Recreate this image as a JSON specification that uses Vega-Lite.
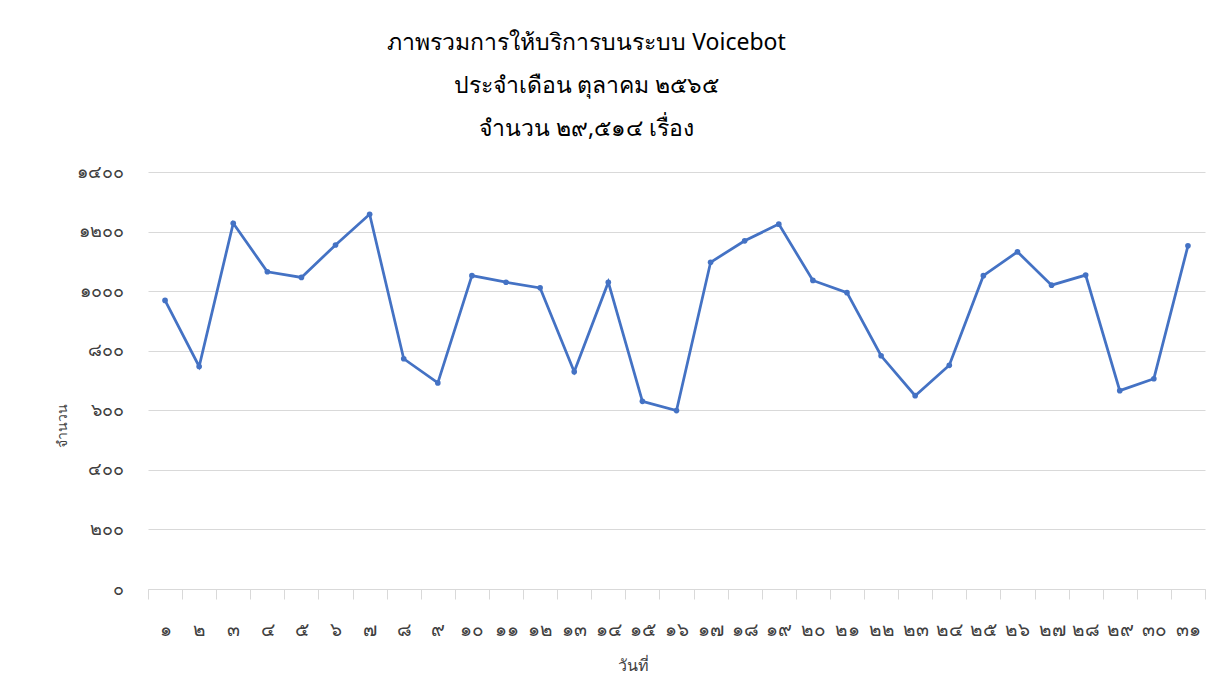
{
  "$schema": "https://vega.github.io/schema/vega-lite/v6.json",
  "width": 1057,
  "height": 417,
  "autosize": "none",
  "padding": {"left": 148, "top": 172, "right": 13, "bottom": 105},
  "background": "white",
  "title": {
    "text": ["ภาพรวมการให้บริการบนระบบ Voicebot", "ประจำเดือน ตุลาคม ๒๕๖๕", "จำนวน  ๒๙,๕๑๔ เรื่อง"],
    "anchor": "middle",
    "frame": "group",
    "dx": -90,
    "offset": 22,
    "fontSize": 23,
    "lineHeight": 43,
    "font": "Noto Sans",
    "fontWeight": "normal",
    "color": "#000000"
  },
  "data": {
    "values": [
      {"day": 1, "count": 969},
      {"day": 2, "count": 747},
      {"day": 3, "count": 1228},
      {"day": 4, "count": 1065},
      {"day": 5, "count": 1046},
      {"day": 6, "count": 1155},
      {"day": 7, "count": 1258},
      {"day": 8, "count": 773},
      {"day": 9, "count": 692},
      {"day": 10, "count": 1052},
      {"day": 11, "count": 1030},
      {"day": 12, "count": 1011},
      {"day": 13, "count": 729},
      {"day": 14, "count": 1030},
      {"day": 15, "count": 630},
      {"day": 16, "count": 599},
      {"day": 17, "count": 1097},
      {"day": 18, "count": 1169},
      {"day": 19, "count": 1225},
      {"day": 20, "count": 1036},
      {"day": 21, "count": 995},
      {"day": 22, "count": 783},
      {"day": 23, "count": 649},
      {"day": 24, "count": 751},
      {"day": 25, "count": 1052},
      {"day": 26, "count": 1132},
      {"day": 27, "count": 1020},
      {"day": 28, "count": 1054},
      {"day": 29, "count": 666},
      {"day": 30, "count": 706},
      {"day": 31, "count": 1152}
    ]
  },
  "mark": {"type": "line", "color": "#4472C4", "strokeWidth": 2.75, "point": {"filled": true, "size": 32, "color": "#4472C4"}},
  "encoding": {
    "x": {
      "field": "day",
      "type": "ordinal",
      "sort": null,
      "scale": {"type": "band", "paddingInner": 0, "paddingOuter": 0},
      "axis": {
        "title": "วันที่",
        "titleFont": "Noto Sans",
        "titleFontSize": 16,
        "titleFontWeight": "normal",
        "titleColor": "#404040",
        "titleX": 485,
        "titleY": 76,
        "titleBaseline": "middle",
        "labelAngle": 0,
        "labelFont": "Noto Sans",
        "labelFontSize": 19,
        "labelColor": "#404040",
        "labelPadding": 21,
        "labelExpr": "replace(replace(replace(replace(replace(replace(replace(replace(replace(replace(datum.label,/0/g,'๐'),/1/g,'๑'),/2/g,'๒'),/3/g,'๓'),/4/g,'๔'),/5/g,'๕'),/6/g,'๖'),/7/g,'๗'),/8/g,'๘'),/9/g,'๙')",
        "domainColor": "#d9d9d9",
        "tickColor": "#d9d9d9",
        "tickSize": 10,
        "tickBand": "extent",
        "grid": false
      }
    },
    "y": {
      "field": "count",
      "type": "quantitative",
      "scale": {"domain": [0, 1400]},
      "axis": {
        "title": "จำนวน",
        "titleFont": "Noto Sans",
        "titleFontSize": 14,
        "titleFontWeight": "normal",
        "titleColor": "#404040",
        "titleX": -86,
        "titleY": 253,
        "titleAngle": -90,
        "titleBaseline": "middle",
        "titleAlign": "center",
        "values": [0, 200, 400, 600, 800, 1000, 1200, 1400],
        "format": "d",
        "labelFont": "Noto Sans",
        "labelFontSize": 18,
        "labelColor": "#404040",
        "labelPadding": 25,
        "labelExpr": "replace(replace(replace(replace(replace(replace(replace(replace(replace(replace(datum.label,/0/g,'๐'),/1/g,'๑'),/2/g,'๒'),/3/g,'๓'),/4/g,'๔'),/5/g,'๕'),/6/g,'๖'),/7/g,'๗'),/8/g,'๘'),/9/g,'๙')",
        "domain": false,
        "ticks": false,
        "grid": true,
        "gridColor": "#d9d9d9",
        "gridWidth": 1
      }
    }
  },
  "config": {
    "view": {"stroke": null}
  }
}
